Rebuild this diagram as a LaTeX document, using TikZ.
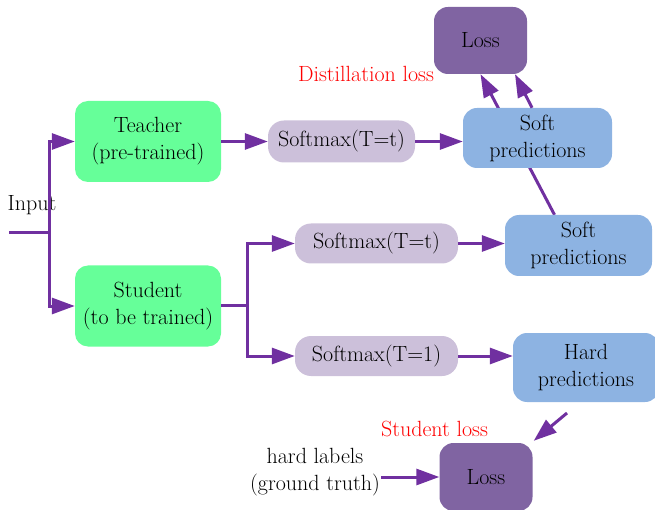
\documentclass[tikz,border=0pt]{standalone}
\usetikzlibrary{arrows.meta,backgrounds}
\definecolor{flow}{HTML}{7030A0}
\definecolor{netgreen}{HTML}{66FF99}
\definecolor{smaxfill}{HTML}{CCC0DA}
\definecolor{predfill}{HTML}{8DB3E2}
\definecolor{lossfill}{HTML}{8064A2}
\tikzset{
  box/.style={draw=none, inner sep=0pt, align=center, font=\fontsize{22}{27}\selectfont},
  netbox/.style={box, fill=netgreen, rounded corners=13pt, minimum width=146pt, minimum height=81pt},
  smaxbox/.style={box, fill=smaxfill, rounded corners=16pt, minimum height=40pt},
  predbox/.style={box, fill=predfill, rounded corners=14pt},
  lossbox/.style={box, fill=lossfill, rounded corners=14pt, minimum width=93pt},
  label/.style={inner sep=1pt, align=center, font=\fontsize{22}{27}\selectfont},
  redlabel/.style={label, text=red},
  arr/.style={draw=flow, line width=3pt, -{Triangle[length=23pt,width=16pt]}},
  plain/.style={draw=flow, line width=3pt}
}
\begin{document}
\begin{tikzpicture}[x=1pt,y=-1pt]
\useasboundingbox (0,0) rectangle (655,510);

% networks
\node[netbox] (teacher) at (148,141.5) {Teacher\\(pre-trained)};
\node[netbox] (student) at (148,306) {Student\\(to be trained)};

% softmax stages
\node[smaxbox, minimum width=147pt, minimum height=42pt] (sm1) at (341.5,141.5) {Softmax(T=t)};
\node[smaxbox, minimum width=163pt] (sm2) at (376.5,243.5) {Softmax(T=t)};
\node[smaxbox, minimum width=163pt] (sm3) at (376.5,356) {Softmax(T=1)};

% predictions
\node[predbox, minimum width=149pt, minimum height=60pt] (softT) at (537.5,138) {Soft\\predictions};
\node[predbox, minimum width=147pt, minimum height=61pt] (softS) at (578.5,245.5) {Soft\\predictions};
\node[predbox, minimum width=146pt, minimum height=69pt] (hard) at (586,367.5) {Hard\\predictions};

% losses
\node[lossbox, minimum height=67pt] (lossT) at (480.5,40.5) {Loss};
\node[lossbox, minimum height=68pt] (lossB) at (486,477) {Loss};

% labels
\node[label, anchor=base] (input) at (32,211) {Input};
\node[redlabel] (dl) at (366,74) {Distillation loss};
\node[redlabel] (sl) at (434.5,429) {Student loss};
\node[label] (gt) at (315,472) {hard labels\\(ground truth)};

% input split
\coordinate (in) at (9,233);
\coordinate (j1) at (49,233);
\draw[plain] (in) -- (j1);
\draw[arr] (j1) |- (teacher.west);
\draw[arr] (j1) |- (student.west);

% teacher branch
\draw[arr] (teacher.east) -- (sm1.west);
\draw[arr] (sm1.east) -- (sm1.east -| softT.west);

% student branch
\coordinate (j2) at (247,305);
\draw[plain] (student.east |- j2) -- (j2);
\draw[arr] (j2) |- (sm2.west);
\draw[arr] (j2) |- (sm3.west);
\draw[arr] (sm2.east) -- (sm2.east -| softS.west);
\draw[arr] (sm3.east) -- (sm3.east -| hard.west);

% distillation loss inputs (student line passes behind the teacher predictions)
\begin{scope}[on background layer]
\draw[arr] ([xshift=-24pt]softS.north) -- (lossT.south);
\end{scope}
\draw[arr] ([xshift=-5.5pt]softT.north) -- ([xshift=34.5pt]lossT.south);

% student loss inputs
\coordinate (h1) at (567,413);
\draw[arr] (h1) -- ([xshift=1pt,yshift=2pt]lossB.north east);
\draw[arr] (gt.east |- lossB.west) -- (lossB.west);
\end{tikzpicture}
\end{document}
